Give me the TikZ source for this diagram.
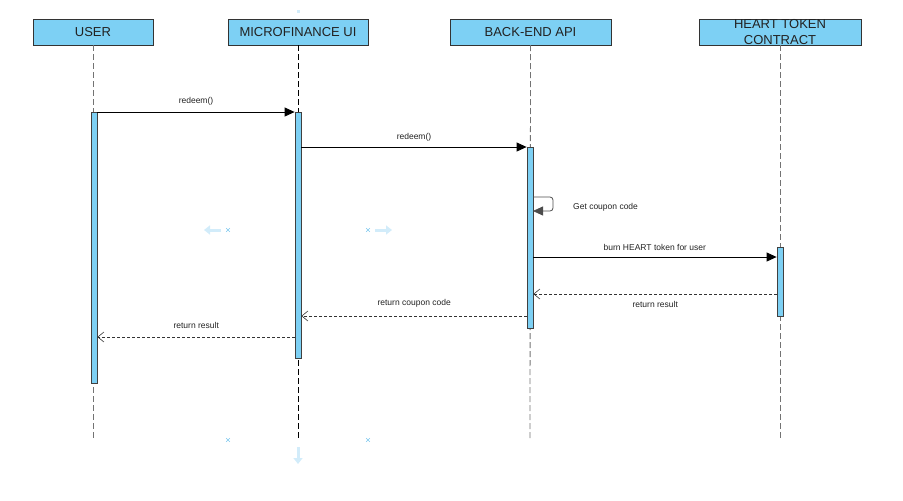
\documentclass[tikz,border=0pt]{standalone}
\usepackage{fontspec}
\setmainfont{Liberation Sans}
\usetikzlibrary{arrows.meta}
\definecolor{boxblue}{HTML}{7DD0F4}
\definecolor{ghost}{HTML}{D2ECFA}
\definecolor{ghostx}{HTML}{7CC8EE}
\definecolor{txt}{HTML}{222222}
\begin{document}
\begin{tikzpicture}[x=1pt,y=-1pt,
  head/.style={draw=black!80,fill=boxblue,minimum height=26pt,inner sep=0pt,font=\fontsize{13}{12}\selectfont,text=txt,align=center},
  bar/.style={draw=black!75,fill=boxblue,line width=0.8pt},
  life/.style={draw=black!55,dash pattern=on 6pt off 3pt,line width=0.8pt},
  msg/.style={draw=black,line width=0.8pt,-{Triangle[length=10pt,width=9pt]}},
  ret/.style={draw=black!80,line width=0.6pt,dash pattern=on 3pt off 2pt,-{Straight Barb[length=6pt,width=10pt,line width=0.6pt]}},
  lbl/.style={font=\fontsize{8.5}{9}\selectfont,text=txt,inner sep=0pt},
  gx/.style={draw=ghostx,line width=0.6pt},
  garr/.style={draw=ghost,line width=3pt,-{Triangle[length=6pt,width=9pt]}}]
\useasboundingbox (0,0) rectangle (903,501);
% headers
\node[head,minimum width=120pt] (huser) at (93,32) {USER};
\node[head,minimum width=140pt] (hmf) at (298,32) {MICROFINANCE UI};
\node[head,minimum width=161pt] (hbe) at (530.5,32) {BACK-END API};
\node[head,minimum width=162pt] (hht) at (780,32) {};
\node[font=\fontsize{13}{13}\selectfont,text=txt,inner sep=0pt] (t1) at (780,24.5) {HEART TOKEN};
\node[font=\fontsize{13}{13}\selectfont,text=txt,inner sep=0pt] (t2) at (780,40.5) {CONTRACT};
% lifeline ends
\coordinate (euser) at (93,440);
\coordinate (emf) at (298,440);
\coordinate (ebe) at (530,440);
\coordinate (eht) at (780,440);
\draw[life] (huser.south) -- (euser);
\draw[life,draw=black] (hmf.south) -- (emf);
\draw[life] (hbe.south) -- (ebe);
\draw[life] (hht.south) -- (eht);
% activation bars
\node[bar,minimum width=6pt,minimum height=271pt,inner sep=0pt,anchor=north] (auser) at (94,112) {};
\node[bar,minimum width=6pt,minimum height=246pt,inner sep=0pt,anchor=north] (amf) at (298,112) {};
\node[bar,minimum width=6pt,minimum height=181pt,inner sep=0pt,anchor=north] (abe) at (530,147) {};
\node[bar,minimum width=6pt,minimum height=69pt,inner sep=0pt,anchor=north] (aht) at (780,247) {};
% messages
\draw[msg] (auser.north east) -- (amf.north west) node[lbl,midway,above=6pt] {redeem()};
\draw[msg] (amf.east |- abe.north) -- (abe.north west) node[lbl,midway,above=5pt] {redeem()};
\coordinate (s1) at (533,197);
\coordinate (s2) at (533,211);
\draw[msg,draw=black!70,rounded corners=3pt] (s1) -- (553,197) -- (553,211) -- (s2);
\node[lbl,anchor=west] (lself) at (573,207) {Get coupon code};
\coordinate (b1) at (533,257);
\draw[msg] (b1) -- (aht.west |- b1) node[lbl,midway,above=6pt] {burn HEART token for user};
\coordinate (r1) at (777,294);
\draw[ret] (r1) -- (abe.east |- r1) node[lbl,midway,below=7pt] {return result};
\coordinate (r2) at (527,316);
\draw[ret] (r2) -- (amf.east |- r2) node[lbl,midway,above=8pt] {return coupon code};
\coordinate (r3) at (295,337);
\draw[ret] (r3) -- (auser.east |- r3) node[lbl,midway,above=8pt] {return result};
% faint selection handles
\coordinate (x1) at (228,230);
\coordinate (x2) at (368,230);
\coordinate (x3) at (228,440);
\coordinate (x4) at (368,440);
\foreach \n in {x1,x2,x3,x4}{
  \draw[gx] ([shift={(-1.8,-1.8)}]\n) -- ([shift={(1.8,1.8)}]\n) ([shift={(-1.8,1.8)}]\n) -- ([shift={(1.8,-1.8)}]\n);
}
\coordinate (g1a) at (221,230); \coordinate (g1b) at (204,230);
\coordinate (g2a) at (375,230); \coordinate (g2b) at (392,230);
\coordinate (g3a) at (298,447); \coordinate (g3b) at (298,464);
\draw[garr] (g1a) -- (g1b);
\draw[garr] (g2a) -- (g2b);
\draw[garr] (g3a) -- (g3b);
\node[fill=ghost,minimum size=3pt,inner sep=0pt] (sq) at (298,11) {};
\end{tikzpicture}
\end{document}
